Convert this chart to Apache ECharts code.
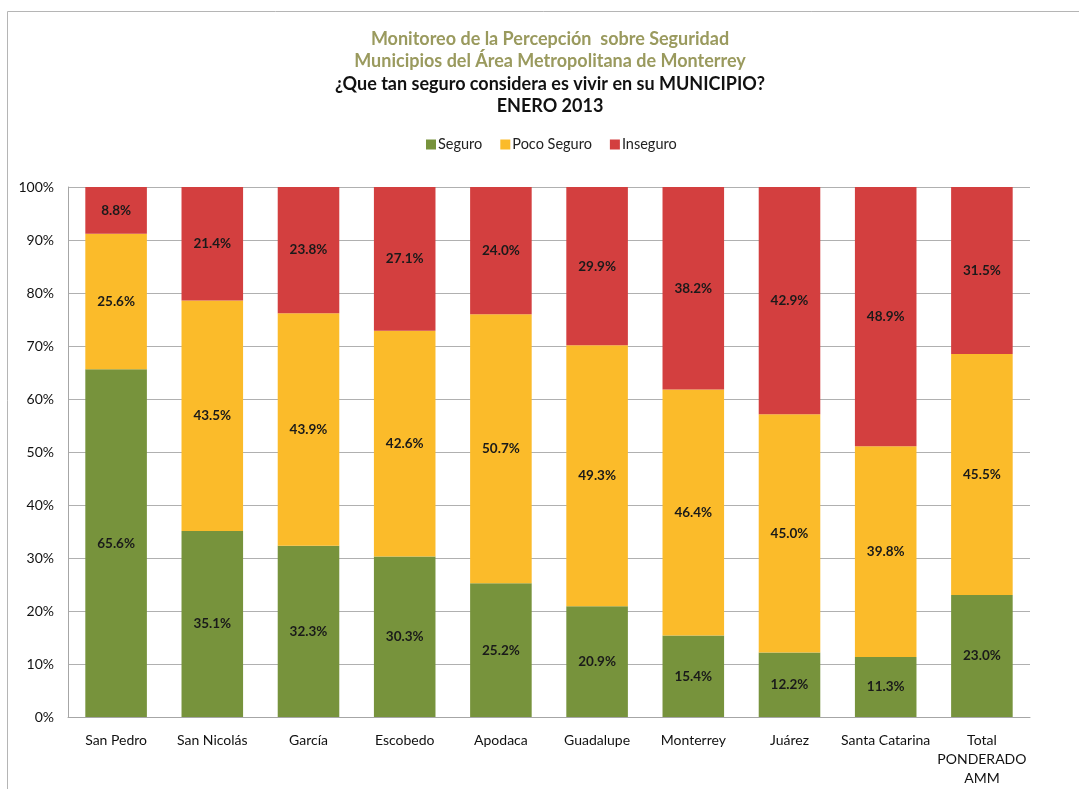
<!DOCTYPE html>
<html><head><meta charset="utf-8">
<script src="https://cdn.jsdelivr.net/npm/echarts@6/dist/echarts.min.js"></script>
<style>html,body{margin:0;padding:0;background:#fff}#c{width:1079px;height:789px}</style>
</head><body><div id="c"></div>
<script>
const categories = ['San Pedro','San Nicolás','García','Escobedo','Apodaca','Guadalupe','Monterrey','Juárez','Santa Catarina','Total\nPONDERADO\nAMM'];
const seguro     = [65.6, 35.1, 32.3, 30.3, 25.2, 20.9, 15.4, 12.2, 11.3, 23.0];
const pocoSeguro = [25.6, 43.5, 43.9, 42.6, 50.7, 49.3, 46.4, 45.0, 39.8, 45.5];
const inseguro   = [8.8, 21.4, 23.8, 27.1, 24.0, 29.9, 38.2, 42.9, 48.9, 31.5];
const seriesNames = ['Seguro','Poco Seguro','Inseguro'];
const titleLines = ['Monitoreo de la Percepción  sobre Seguridad','Municipios del Área Metropolitana de Monterrey','¿Que tan seguro considera es vivir en su MUNICIPIO?','ENERO 2013'];

const raw = [seguro, pocoSeguro, inseguro];
const totals = categories.map((_, i) => raw.reduce((s, a) => s + a[i], 0));
const colors = ['#77933c', '#fbbb2a', '#d33f3f'];
const FONT = 'Lato';

const chart = echarts.init(document.getElementById('c'), null, {renderer: 'canvas'});
const titleY = [25, 47, 70, 92];
const titleColors = ['#9a9a5e', '#9a9a5e', '#111', '#111'];
chart.setOption({
  animation: false,
  textStyle: {fontFamily: FONT},
  title: titleLines.map((t, i) => ({
    text: t, left: 545, top: titleY[i], textAlign: 'center',
    textStyle: {fontFamily: FONT, fontSize: 18, fontWeight: 'bold', color: titleColors[i]}
  })),
  legend: {
    top: 132, left: 421, itemWidth: 10, itemHeight: 10, itemGap: 18, icon: 'rect',
    textStyle: {fontFamily: FONT, fontSize: 14.5, color: '#222', padding: [0,0,0,-3]},
    data: seriesNames
  },
  graphic: [{
    type: 'rect', shape: {x: 7.5, y: 11.5, width: 1200, height: 900},
    style: {fill: 'none', stroke: '#b5b5b5', lineWidth: 1}, silent: true, z: -10
  }],
  grid: {left: 68, right: 49, top: 187, bottom: 72},
  xAxis: {
    type: 'category', data: categories,
    axisLine: {lineStyle: {color: '#a6a6a6'}}, axisTick: {show: false},
    axisLabel: {fontFamily: FONT, fontSize: 14, color: '#111', margin: 14, lineHeight: 19, interval: 0}
  },
  yAxis: {
    type: 'value', min: 0, max: 100, interval: 10,
    axisLine: {show: true, lineStyle: {color: '#a6a6a6'}}, axisTick: {show: false},
    splitLine: {lineStyle: {color: '#b0b0b0'}},
    axisLabel: {fontFamily: FONT, fontSize: 14, color: '#111', formatter: '{value}%', margin: 14}
  },
  series: seriesNames.map((name, k) => ({
    name, type: 'bar', stack: 'total', barWidth: '64%',
    itemStyle: {color: colors[k]},
    label: {
      show: true, position: 'inside', fontFamily: FONT, fontSize: 13.5, fontWeight: 'bold', color: '#1a1a1a',
      formatter: p => raw[k][p.dataIndex].toFixed(1) + '%'
    },
    data: raw[k].map((v, i) => v / totals[i] * 100)
  }))
});
</script></body></html>
